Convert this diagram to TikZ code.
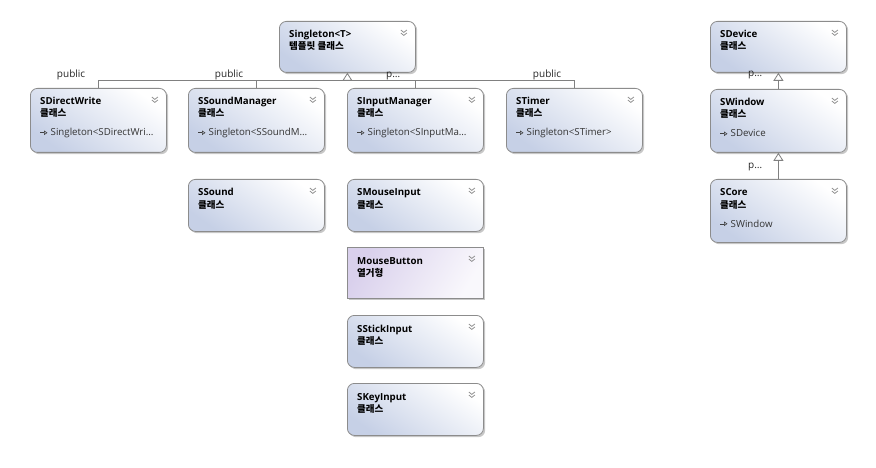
\documentclass[tikz,border=0pt]{standalone}
\usepackage{fontspec}
\setmainfont{Open Sans}
\newfontfamily\kor{Noto Sans CJK KR}
\usetikzlibrary{calc,arrows.meta,shadows}

\definecolor{boxblue}{HTML}{C6D0E6}
\definecolor{enumlav}{HTML}{D9D0EC}
\definecolor{bordergray}{HTML}{8C8C8C}
\definecolor{linegray}{HTML}{808080}
\definecolor{chevgray}{HTML}{8A8A8A}

\tikzset{
  classbox/.style={draw=bordergray, line width=0.8pt, rounded corners=7pt,
    top color=white, bottom color=boxblue, shading angle=-35,
    drop shadow={shadow xshift=1.8pt, shadow yshift=-1.8pt, fill=black, opacity=0.22}},
  enumbox/.style={draw=bordergray, line width=0.8pt,
    left color=enumlav, right color=enumlav!15!white, shading angle=60,
    drop shadow={shadow xshift=1.8pt, shadow yshift=-1.8pt, fill=black, opacity=0.22}},
  titletxt/.style={font=\bfseries\fontsize{9.7}{12}\selectfont, anchor=base west, inner sep=0pt},
  kortxt/.style={font=\kor\bfseries\fontsize{9.5}{11}\selectfont, anchor=base west, inner sep=0pt},
  inhtxt/.style={font=\fontsize{9.7}{11}\selectfont, text=black!80, anchor=base west, inner sep=0pt},
  lbl/.style={font=\fontsize{10}{12}\selectfont, text=black!85, anchor=base east, inner sep=0pt},
  conn/.style={draw=linegray, line width=0.8pt},
  genarrow/.style={conn, -{Triangle[open, length=8pt, width=10pt, line width=0.8pt]}},
  chevron/.style={draw=chevgray, line width=0.75pt},
  inhicon/.style={draw=black!75, line width=0.6pt, -{Triangle[open, length=3.5pt, width=4.5pt, line width=0.6pt]}}
}

% #1 name, #2 x, #3 y, #4 height, #5 style, #6 title, #7 korean, #8 inherit text
\newcommand\umlclass[8]{%
  \node[#5, minimum width=136pt, minimum height=#4pt, anchor=north west, inner sep=0pt] (#1) at (#2,#3) {};
  \node[titletxt] (#1-t) at ($(#1.north west)+(10,17)$) {#6};
  \node[kortxt] (#1-k) at ($(#1.north west)+(10,29)$) {#7};
  \draw[chevron] ($(#1.north east)+(-15,9)$) -- ++(3,2.4) -- ++(3,-2.4);
  \draw[chevron] ($(#1.north east)+(-15,12)$) -- ++(3,2.4) -- ++(3,-2.4);
  \if\relax\detokenize{#8}\relax\else
    \draw[inhicon] ($(#1.north west)+(10,44.8)$) -- ++(7.5,0);
    \node[inhtxt] (#1-i) at ($(#1.north west)+(20.5,48)$) {#8};
  \fi
}

\begin{document}
\begin{tikzpicture}[x=1pt,y=-1pt]
  \useasboundingbox[fill=white] (0,0) rectangle (876,468);

  % top hierarchy
  \umlclass{sing}{279}{21}{51}{classbox}{Singleton<T>}{템플릿 클래스}{}
  \umlclass{sdw}{30}{88}{64}{classbox}{SDirectWrite}{클래스}{Singleton<SDirectWri…}
  \umlclass{ssm}{188}{88}{64}{classbox}{SSoundManager}{클래스}{Singleton<SSoundM…}
  \umlclass{sim}{347}{88}{64}{classbox}{SInputManager}{클래스}{Singleton<SInputMa…}
  \umlclass{stm}{506}{88}{64}{classbox}{STimer}{클래스}{Singleton<STimer>}

  % standalone classes
  \umlclass{ssd}{188}{179}{52}{classbox}{SSound}{클래스}{}
  \umlclass{smi}{347}{179}{52}{classbox}{SMouseInput}{클래스}{}
  \umlclass{mbt}{347}{247}{51}{enumbox}{MouseButton}{열거형}{}
  \umlclass{ssi}{347}{315}{52}{classbox}{SStickInput}{클래스}{}
  \umlclass{ski}{347}{383}{52}{classbox}{SKeyInput}{클래스}{}

  % right hierarchy
  \umlclass{sdv}{710}{21}{51}{classbox}{SDevice}{클래스}{}
  \umlclass{swn}{710}{89}{63}{classbox}{SWindow}{클래스}{SDevice}
  \umlclass{scr}{710}{179}{63}{classbox}{SCore}{클래스}{SWindow}

  % generalization bus
  \coordinate (bus) at (347.5,80.5);
  \draw[conn] (sdw.north) -- (sdw.north |- bus) -- (stm.north |- bus) -- (stm.north);
  \draw[conn] (ssm.north) -- (ssm.north |- bus);
  \draw[conn] (sim.north) -- (sim.north |- bus);
  \draw[genarrow] (sing.south |- bus) -- (sing.south);

  \node[lbl] (l1) at ($(sdw.north |- bus)+(-13,-3)$) {public};
  \node[lbl] (l2) at ($(ssm.north |- bus)+(-13,-3)$) {public};
  \node[lbl] (l3) at ($(sim.north |- bus)+(-15,-3)$) {p…};
  \node[lbl] (l4) at ($(stm.north |- bus)+(-13,-3)$) {public};

  \draw[genarrow] (swn.north) -- (sdv.south);
  \draw[genarrow] (scr.north) -- (swn.south);
  \node[lbl] (l5) at ($(swn.north)+(-16,-12)$) {p…};
  \node[lbl] (l6) at ($(scr.north)+(-16,-10)$) {p…};
\end{tikzpicture}
\end{document}
